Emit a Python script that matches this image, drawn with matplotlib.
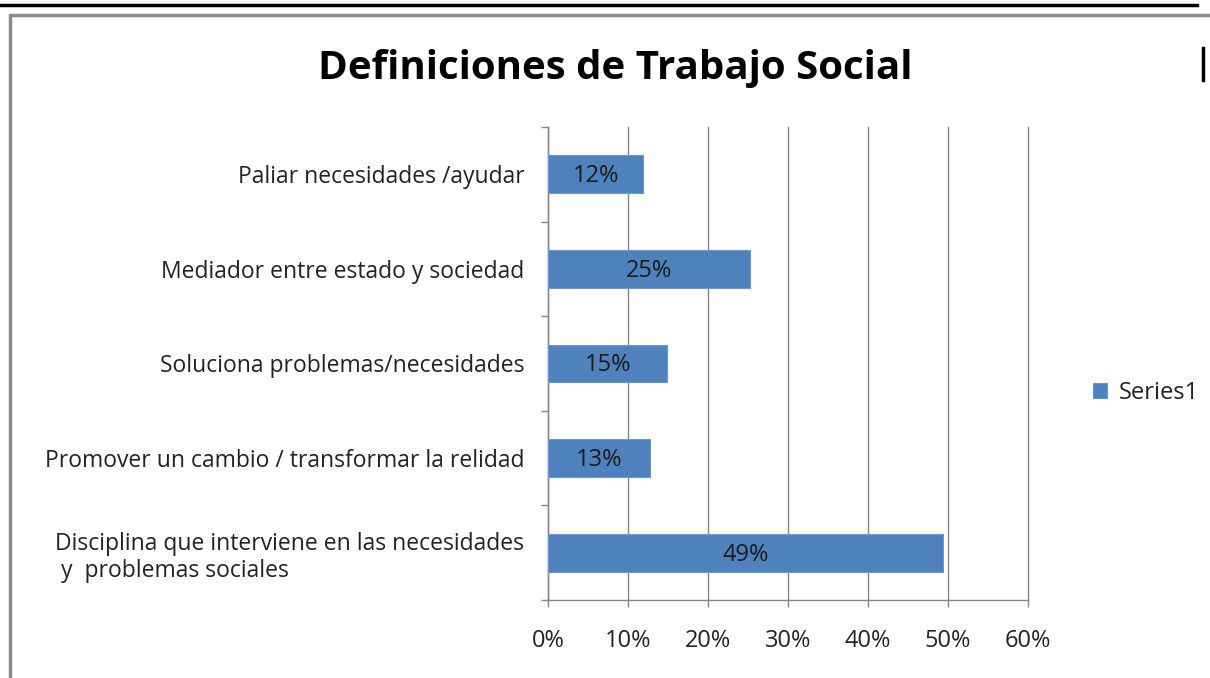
import matplotlib.pyplot as plt
from matplotlib.patches import Rectangle
from matplotlib.lines import Line2D

categories = ['Disciplina que interviene en las necesidades\n y  problemas sociales',
              'Promover un cambio / transformar la relidad',
              'Soluciona problemas/necesidades',
              'Mediador entre estado y sociedad',
              'Paliar necesidades /ayudar']
values = [49.4, 12.8, 14.9, 25.3, 11.9]
labels = ['49%', '13%', '15%', '25%', '12%']
xticks = [0, 10, 20, 30, 40, 50, 60]

plt.rcParams['font.family'] = ['Open Sans', 'DejaVu Sans']

fig = plt.figure(figsize=(12.1, 6.78), dpi=100)
ax = fig.add_axes([548/1210, 1-600/678, 480/1210, 473/678])

# page decorations
fig.add_artist(Line2D([0, 1197/1210], [1-5/678, 1-5/678], color='black', lw=2.5, transform=fig.transFigure))
fig.add_artist(Rectangle((10/1210, -0.05), 1.1, 1-15/678+0.05, transform=fig.transFigure,
                         fill=False, edgecolor='#8c8c8c', lw=2.5))
fig.add_artist(Line2D([1203/1210, 1203/1210], [1-48/678, 1-80/678], color='black', lw=2.5, transform=fig.transFigure))

pos = list(range(len(categories)))
ax.barh(pos, values, height=0.4, color='#4F81BD', edgecolor='#6f96c8', linewidth=0.8, zorder=3, label='Series1')
for p, v, t in zip(pos, values, labels):
    ax.text(v/2, p - 0.02, t, ha='center', va='center', fontsize=17, color='#1a1a1a', zorder=4)

ax.set_xlim(0, 60)
ax.set_ylim(-0.5, 4.5)
ax.set_xticks(xticks)
ax.set_xticklabels([f'{x}%' for x in xticks], fontsize=17, color='#222222')
ax.set_yticks(pos)
ax.set_yticklabels(categories, fontsize=16.5, color='#222222', multialignment='left')
ax.set_yticks([-0.5, 0.5, 1.5, 2.5, 3.5, 4.5], minor=True)
ax.tick_params(axis='y', which='major', length=0, pad=17)
ax.tick_params(axis='y', which='minor', length=5, color='#868686', width=1)
ax.tick_params(axis='x', length=5, color='#868686', width=1, pad=16)
ax.grid(axis='x', color='#868686', lw=1, zorder=0)
for gl in ax.get_xgridlines():
    gl.set_clip_on(False)
for s in ['top', 'right']:
    ax.spines[s].set_visible(False)
for s in ['left', 'bottom']:
    ax.spines[s].set_color('#868686')
    ax.spines[s].set_linewidth(1)

fig.text(615/1210, 1-68/678, 'Definiciones de Trabajo Social', ha='center', va='center',
         fontsize=29, fontweight='bold', color='black')

leg = ax.legend(loc='center left', bbox_to_anchor=(1072/1210, 1-393/678), bbox_transform=fig.transFigure,
                frameon=False, fontsize=17, handlelength=0.6, handleheight=0.6, handletextpad=0.5)
for t in leg.get_texts():
    t.set_color('#222222')

fig.savefig('out.png', dpi=100)
